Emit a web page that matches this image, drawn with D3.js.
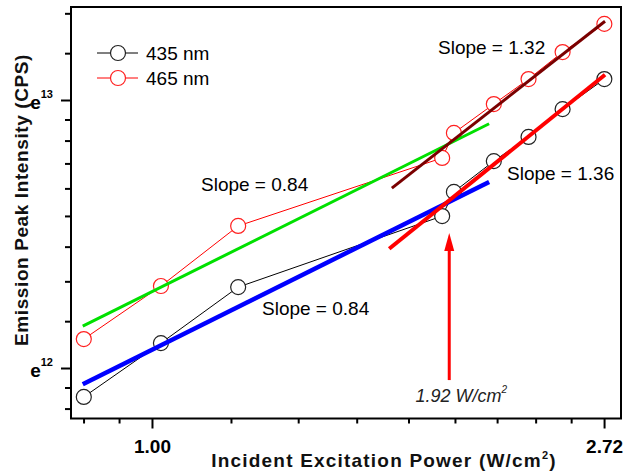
<!DOCTYPE html>
<html>
<head>
<meta charset="utf-8">
<script src="https://cdn.jsdelivr.net/npm/d3@7"></script>
<style>
  body { margin: 0; background: #fff; }
  text { font-family: "Liberation Sans", Arial, sans-serif; }
</style>
</head>
<body>
<div id="plot"></div>
<script>
// excitation power (W/cm2), shared by both series
const power = [0.86, 1.02, 1.21, 1.90, 1.95, 2.13, 2.30, 2.48, 2.72];
// emission peak intensity (CPS)
const int435 = [146100, 178600, 220100, 286900, 314000, 352200, 385400, 427600, 478300];
const int465 = [181300, 221000, 276500, 356400, 391200, 435800, 478300, 529100, 587700];

// power-law fits  I = amp * P^slope
const fitSlope = [0.84, 0.84, 1.32, 1.36];
const fitAmp   = [216400, 174200, 158100, 124400];
const fitFrom  = [0.858, 0.858, 1.70, 1.69];
const fitTo    = [2.108, 2.108, 2.724, 2.724];
const fitColor = ["#00e000", "#0000ff", "#7a0000", "#ff0000"];
const fitWidth = [3, 4.5, 3, 4];

const xTickVals = [1, Math.E];
const xTickLabels = ["1.00", "2.72"];
const yTickExp = [12, 13];

const thresholdPower = 1.93;
const thresholdLabel = "1.92 W/cm";

const W = 626, H = 474;
const pLeft = 71, pRight = 621, pTop = 7, pBottom = 418.5;

const svg = d3.select("#plot").append("svg")
  .attr("width", W).attr("height", H);

const x = d3.scaleLog().base(Math.E).domain([0.836, 2.822]).range([pLeft, pRight]);
const y = d3.scaleLog().base(Math.E).domain([Math.exp(11.8116), Math.exp(13.347)]).range([pBottom, pTop]);

// Origin style minor ticks: 8 linear steps between powers of e
function minorTicks(e0, e1, domain) {
  const out = [];
  for (let e = e0; e < e1; e++) {
    const a = Math.exp(e), b = Math.exp(e + 1);
    for (let k = 1; k < 9; k++) out.push(a + k * (b - a) / 9);
  }
  return out.filter(v => v >= domain[0] && v <= domain[1]);
}
const xMinor = minorTicks(-1, 1, x.domain());
const yMinor = minorTicks(11, 14, y.domain());

// ticks
const xAxisMajor = d3.axisBottom(x).tickValues(xTickVals).tickSize(10).tickFormat((d, i) => xTickLabels[i]).tickPadding(11);
const xAxisMinor = d3.axisBottom(x).tickValues(xMinor).tickSize(5).tickFormat("");
const yAxisMajor = d3.axisLeft(y).tickValues(yTickExp.map(Math.exp)).tickSize(10).tickFormat("");
const yAxisMinor = d3.axisLeft(y).tickValues(yMinor).tickSize(6).tickFormat("");

[xAxisMinor, xAxisMajor].forEach(ax => {
  const g = svg.append("g").attr("transform", `translate(0,${pBottom})`).call(ax);
  g.select(".domain").remove();
  g.selectAll("line").attr("stroke", "#000").attr("stroke-width", 2);
  g.selectAll("text").attr("fill", "#000").style("font-size", "19px").style("font-weight", "bold")
    .attr("dy", "0.71em");
});
[yAxisMinor, yAxisMajor].forEach(ax => {
  const g = svg.append("g").attr("transform", `translate(${pLeft},0)`).call(ax);
  g.select(".domain").remove();
  g.selectAll("line").attr("stroke", "#000").attr("stroke-width", 2);
});

// y tick labels e^n
yTickExp.forEach(n => {
  const t = svg.append("text")
    .attr("x", 53).attr("y", y(Math.exp(n)) + 9)
    .attr("text-anchor", "end")
    .style("font-weight", "bold").style("font-size", "19px");
  t.append("tspan").text("e");
  t.append("tspan").attr("dy", -11).style("font-size", "11px").text(n);
});

// series
const series = [
  {vals: int435, color: "#000", stroke: "#222"},
  {vals: int465, color: "#ff0000", stroke: "#ff2020"}
];
const line = d3.line().x(d => x(d[0])).y(d => y(d[1]));
series.forEach(s => {
  const pts = power.map((p, i) => [p, s.vals[i]]);
  svg.append("path").datum(pts).attr("d", line)
    .attr("fill", "none").attr("stroke", s.color).attr("stroke-width", 1);
  svg.selectAll(null).data(pts).enter().append("circle")
    .attr("cx", d => x(d[0])).attr("cy", d => y(d[1])).attr("r", 7.5)
    .attr("fill", "#fff").attr("stroke", s.stroke).attr("stroke-width", 1.2);
});

// fit lines
fitSlope.forEach((s, i) => {
  const pts = [fitFrom[i], fitTo[i]].map(p => [p, fitAmp[i] * Math.pow(p, s)]);
  svg.append("path").datum(pts).attr("d", line)
    .attr("fill", "none").attr("stroke", fitColor[i]).attr("stroke-width", fitWidth[i]);
});

// frame
svg.append("rect").attr("x", pLeft).attr("y", pTop)
  .attr("width", pRight - pLeft).attr("height", pBottom - pTop)
  .attr("fill", "none").attr("stroke", "#000").attr("stroke-width", 2);

// legend
const legend = [{label: "435 nm", color: "#000", stroke: "#222"}, {label: "465 nm", color: "#ff0000", stroke: "#ff2020"}];
legend.forEach((d, i) => {
  const ly = 53 + i * 25;
  svg.append("line").attr("x1", 97).attr("x2", 138).attr("y1", ly).attr("y2", ly)
    .attr("stroke", d.color).attr("stroke-width", 1);
  svg.append("circle").attr("cx", 118).attr("cy", ly).attr("r", 7.5)
    .attr("fill", "#fff").attr("stroke", d.stroke).attr("stroke-width", 1.2);
  svg.append("text").attr("x", 146).attr("y", ly + 7).style("font-size", "19px").text(d.label);
});

// slope annotations
const notes = [
  {t: "Slope = 0.84", x: 201, y: 191},
  {t: "Slope = 0.84", x: 262, y: 315},
  {t: "Slope = 1.32", x: 438, y: 54},
  {t: "Slope = 1.36", x: 507, y: 180}
];
notes.forEach(n => svg.append("text").attr("x", n.x).attr("y", n.y).style("font-size", "19px").text(n.t));

// threshold arrow
const ax = x(thresholdPower);
const yTail = y(Math.exp(11.955)), yTip = y(Math.exp(12.504));
svg.append("line").attr("x1", ax).attr("x2", ax).attr("y1", yTail).attr("y2", yTip + 14)
  .attr("stroke", "#ff0000").attr("stroke-width", 3);
svg.append("path")
  .attr("d", `M${ax},${yTip} L${ax - 5},${yTip + 18} L${ax + 5},${yTip + 18} Z`)
  .attr("fill", "#ff0000");
const lab = svg.append("text").attr("x", ax + 12).attr("y", 402).attr("text-anchor", "middle")
  .style("font-size", "18px").style("font-style", "italic").attr("fill", "#222");
lab.append("tspan").text(thresholdLabel);
lab.append("tspan").attr("dy", -9).style("font-size", "10px").text("2");

// axis titles
const xt = svg.append("text").attr("x", 384).attr("y", 467).attr("text-anchor", "middle")
  .style("font-size", "19px").style("font-weight", "bold").style("letter-spacing", "1.2px").attr("fill", "#111");
xt.append("tspan").text("Incident Excitation Power (W/cm");
xt.append("tspan").attr("dy", -8).style("font-size", "11px").text("2");
xt.append("tspan").attr("dy", 8).text(")");

svg.append("text").attr("transform", "translate(28,200) rotate(-90)")
  .attr("text-anchor", "middle").style("font-size", "19px").style("font-weight", "bold")
  .style("letter-spacing", "0.6px").attr("fill", "#111")
  .text("Emission Peak Intensity (CPS)");
</script>
</body>
</html>
